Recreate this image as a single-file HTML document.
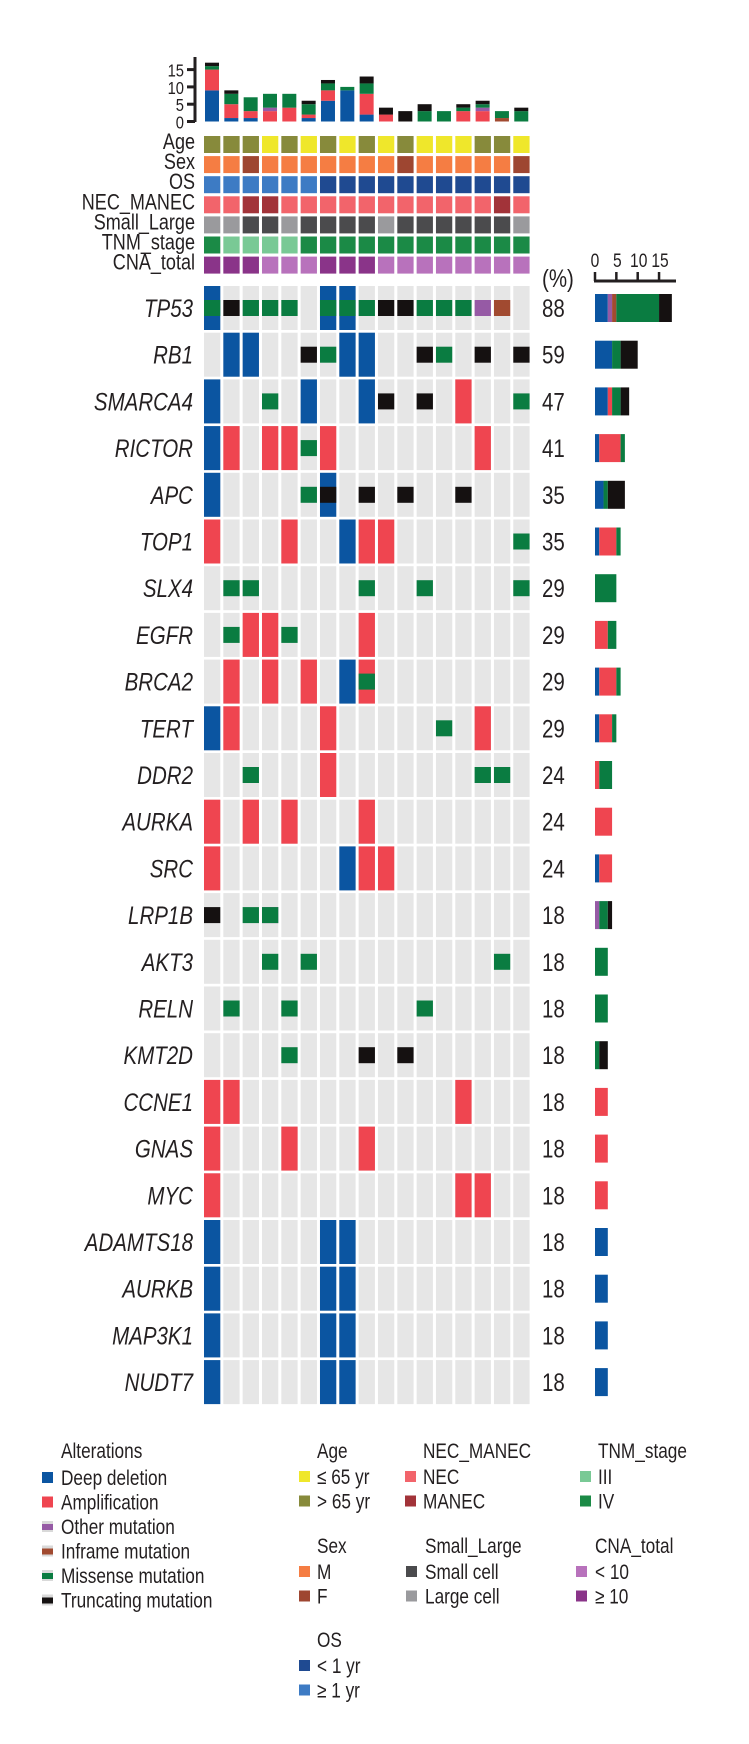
<!DOCTYPE html>
<html><head><meta charset="utf-8"><style>
html,body{margin:0;padding:0;background:#fff;width:749px;height:1744px;overflow:hidden}
svg{display:block}
text{font-family:"Liberation Sans",sans-serif;fill:#231f20}
</style></head><body>
<svg id="chart" width="749" height="1744" viewBox="0 0 749 1744" xmlns="http://www.w3.org/2000/svg"></svg>
<script>
const genes=["TP53","RB1","SMARCA4","RICTOR","APC","TOP1","SLX4","EGFR","BRCA2","TERT","DDR2","AURKA","SRC","LRP1B","AKT3","RELN","KMT2D","CCNE1","GNAS","MYC","ADAMTS18","AURKB","MAP3K1","NUDT7"];
const pct=[88,59,47,41,35,35,29,29,29,29,24,24,24,18,18,18,18,18,18,18,18,18,18,18];
const alterations=[
"DM,T,M,M,M,,DM,DM,M,T,T,M,M,M,O,I,",
",D,D,,,T,M,D,D,,,T,M,,T,,T",
"D,,,M,,D,,,D,T,,T,,A,,,M",
"D,A,,A,A,M,A,,,,,,,,A,,",
"D,,,,,M,DT,,T,,T,,,T,,,",
"A,,,,A,,,D,A,A,,,,,,,M",
",M,M,,,,,,M,,,M,,,,,M",
",M,A,A,M,,,,A,,,,,,,,",
",A,,A,,A,,D,AM,,,,,,,,",
"D,A,,,,,A,,,,,,M,,A,,",
",,M,,,,A,,,,,,,,M,M,",
"A,,A,,A,,,,A,,,,,,,,",
"A,,,,,,,D,A,A,,,,,,,",
"T,,M,OM,,,,,,,,,,,,,",
",,,M,,M,,,,,,,,,,M,",
",M,,,M,,,,,,,M,,,,,",
",,,,M,,,,T,,T,,,,,,",
"A,A,,,,,,,,,,,,A,,,",
"A,,,,A,,,,A,,,,,,,,",
"A,,,,,,,,,,,,,A,A,,",
"D,,,,,,D,D,,,,,,,,,",
"D,,,,,,D,D,,,,,,,,,",
"D,,,,,,D,D,,,,,,,,,",
"D,,,,,,D,D,,,,,,,,,"
];
const annotNames=["Age","Sex","OS","NEC_MANEC","Small_Large","TNM_stage","CNA_total"];
const ageVals=["o","o","o","y","o","y","o","y","o","y","o","y","y","y","o","o","y"];
const sexVals=["M","M","F","M","M","M","M","M","M","M","F","M","M","M","M","M","F"];
const osVals=["g","g","g","g","g","g","l","l","l","l","l","l","l","l","l","l","l"];
const necVals=["N","N","X","X","N","N","N","N","N","N","N","N","N","N","N","X","N"];
const sizeVals=["L","L","S","S","L","S","S","S","S","L","S","S","S","S","S","S","L"];
const tnmVals=["IV","III","III","III","III","IV","IV","IV","IV","IV","IV","IV","IV","IV","IV","IV","IV"];
const cnaVals=["h","h","h","l","l","l","h","h","h","l","l","l","l","l","l","l","l"];
const barTicks=[0,5,10,15];
const rightTicks=[0,5,10,15];

const C={D:"#0b55a1",A:"#ef4550",O:"#965aa5",I:"#a14a30",M:"#0a7c41",T:"#151111",bg:"#e6e6e6"};
const annColors={
 Age:{y:"#efe72b",o:"#878a3b"},Sex:{M:"#f57d43",F:"#9e4631"},OS:{l:"#1f4a91",g:"#3d7bc4"},
 NEC_MANEC:{N:"#f2646b",X:"#a23339"},Small_Large:{S:"#4b4b4d",L:"#9a9a9d"},
 TNM_stage:{III:"#79c995",IV:"#1b8a46"},CNA_total:{l:"#b872bc",h:"#8a3489"}};
const annData=[ageVals,sexVals,osVals,necVals,sizeVals,tnmVals,cnaVals];

const svg=document.getElementById("chart");
const NS="http://www.w3.org/2000/svg";
const nCol=17, colX0=204, colPitch=19.33, cellW=16.3;
const rowY0=286, rowPitch=46.7, cellH=44;
const xCol=i=>colX0+i*colPitch;
const yRow=r=>rowY0+r*rowPitch;
const barBase=121.5, barUnit=3.46;
const yBar=v=>barBase-v*barUnit;
const rX0=595, rUnit=4.27;
const xR=v=>rX0+v*rUnit;

function rect(x,y,w,h,fill,name){
 const r=document.createElementNS(NS,"rect");
 r.setAttribute("x",x);r.setAttribute("y",y);r.setAttribute("width",w);r.setAttribute("height",h);r.setAttribute("fill",fill);
 
 
 svg.appendChild(r);return r;
}
function txt(x,y,s,size,anchor,italic,name){
 const t=document.createElementNS(NS,"text");
 t.setAttribute("transform","translate("+x+","+y+") scale(0.82,1)");
 t.setAttribute("font-size",size);
 t.setAttribute("text-anchor",anchor);
 if(italic)t.setAttribute("font-style","italic");
 t.textContent=s;
 
 
 svg.appendChild(t);return t;
}
function line(x1,y1,x2,y2,w,name){
 const l=document.createElementNS(NS,"line");
 l.setAttribute("x1",x1);l.setAttribute("y1",y1);l.setAttribute("x2",x2);l.setAttribute("y2",y2);
 l.setAttribute("stroke","#231f20");l.setAttribute("stroke-width",w);
 
 
 svg.appendChild(l);
}
const order=["D","A","O","I","M","T"];
const grid=alterations.map(s=>s.split(","));

// top bar chart
line(195,57,195,122,3,"top-bar-axis");
barTicks.forEach(v=>{line(187,yBar(v),195,yBar(v),3,"top-bar-tick");txt(184,yBar(v)+7,String(v),18,"end",false,"top-bar-tick-label");});
for(let c=0;c<nCol;c++){
 let acc=0;
 order.forEach(k=>{
  let n=0;grid.forEach(g=>{if((g[c]||"").includes(k))n++;});
  if(n>0){rect(xCol(c)+1,yBar(acc+n),14,n*barUnit,C[k],"top-bar-"+k+"-sample-"+(c+1));acc+=n;}
 });
}
// annotations
annNamesLoop:
for(let a=0;a<annotNames.length;a++){
 const y=136+a*20.1;
 txt(195,y+13,annotNames[a],22,"end",false,"annotation-label-"+annotNames[a].toLowerCase());
 for(let c=0;c<nCol;c++) rect(xCol(c),y,cellW,17,annColors[annotNames[a]][annData[a][c]],"annotation-"+annotNames[a].toLowerCase()+"-cell");
}
txt(542,287,"(%)",25,"start",false,"percent-header");
// right axis
line(594,281,676,281,3,"right-bar-axis");
rightTicks.forEach(v=>{line(xR(v),272,xR(v),281,2.5,"right-bar-tick");txt(xR(v)+(v>0?1:0),267,String(v),19,"middle",false,"right-bar-tick-label");});
// grid
grid.forEach((g,r)=>{
 const y=yRow(r);
 txt(193,y+cellH/2+9,genes[r],25,"end",true,"gene-label-"+genes[r].toLowerCase());
 txt(542,y+cellH/2+9,String(pct[r]),25,"start",false,"percent-"+genes[r].toLowerCase());
 for(let c=0;c<nCol;c++){
  const v=g[c]||"";
  rect(xCol(c),y,cellW,cellH,C.bg,"cell-"+genes[r].toLowerCase());
  if(v.includes("D"))rect(xCol(c),y,cellW,cellH,C.D,"deep-deletion-"+genes[r].toLowerCase());
  if(v.includes("A"))rect(xCol(c),y,cellW,cellH,C.A,"amplification-"+genes[r].toLowerCase());
  ["O","I","M","T"].forEach(k=>{if(v.includes(k))rect(xCol(c),y+14,cellW,16,C[k],"mutation-"+k+"-"+genes[r].toLowerCase());});
 }
 let acc=0;
 order.forEach(k=>{
  let n=0;g.forEach(v=>{if(v.includes(k))n++;});
  if(n>0){rect(xR(acc),y+cellH/2-14,n*rUnit,28,C[k],"right-bar-"+k+"-"+genes[r].toLowerCase());acc+=n;}
 });
});
// legend
function legSq(x,y,color,band,name){
 if(band){rect(x,y,11,11,"#d9d9d9",name+"-bg");rect(x,y+3,11,6,color,name);}
 else rect(x,y,11,11,color,name);
}
txt(61,1458,"Alterations",21,"start",false,"legend-title-alterations");
const legAlt=[["Deep deletion",C.D,false],["Amplification",C.A,false],["Other mutation",C.O,true],["Inframe mutation",C.I,true],["Missense mutation",C.M,true],["Truncating mutation",C.T,true]];
legAlt.forEach((l,i)=>{const by=1485+i*24.5;legSq(42,by-13,l[1],l[2],"legend-swatch-"+l[0].toLowerCase().replace(/ /g,"-"));txt(61,by,l[0],21,"start",false,"legend-label-"+l[0].toLowerCase().replace(/ /g,"-"));});
function legGroup(tx,sx,ty,title,items){
 txt(tx,ty,title,21,"start",false,"legend-title-"+title.toLowerCase());
 items.forEach((it,i)=>{const by=ty+26+i*24.5;legSq(sx,by-13,it[1],false,"legend-swatch-"+title.toLowerCase());txt(tx,by,it[0],21,"start",false,"legend-label-"+title.toLowerCase());});
}
legGroup(317,299,1458,"Age",[["\u2264 65 yr",annColors.Age.y],["> 65 yr",annColors.Age.o]]);
legGroup(423,405,1458,"NEC_MANEC",[["NEC",annColors.NEC_MANEC.N],["MANEC",annColors.NEC_MANEC.X]]);
legGroup(598,580,1458,"TNM_stage",[["III",annColors.TNM_stage.III],["IV",annColors.TNM_stage.IV]]);
legGroup(317,299,1553,"Sex",[["M",annColors.Sex.M],["F",annColors.Sex.F]]);
legGroup(425,406,1553,"Small_Large",[["Small cell",annColors.Small_Large.S],["Large cell",annColors.Small_Large.L]]);
legGroup(595,576,1553,"CNA_total",[["< 10",annColors.CNA_total.l],["\u2265 10",annColors.CNA_total.h]]);
legGroup(317,299,1647,"OS",[["< 1 yr",annColors.OS.l],["\u2265 1 yr",annColors.OS.g]]);
</script>
</body></html>
